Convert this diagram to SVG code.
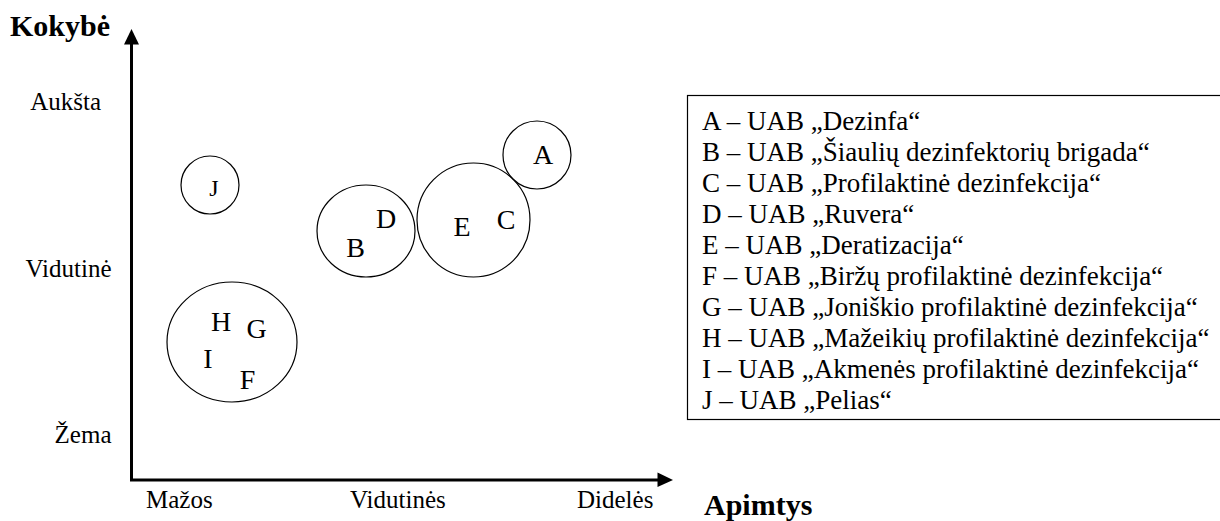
<svg xmlns="http://www.w3.org/2000/svg" width="1220" height="521" viewBox="0 0 1220 521">
<defs>
<style>
.t{font-family:"Liberation Serif","Times New Roman",serif;fill:#000}
.ax{font-size:25px}
.lg{font-size:27px}
.b{font-weight:bold;font-size:30px}
.c{fill:none;stroke:#000;stroke-width:1.2}
.L{font-size:28px;text-anchor:middle}
</style>
</defs>
<rect width="1220" height="521" fill="#fff"/>
<g id="axes">
<path d="M131.5,44 V480 H658" fill="none" stroke="#000" stroke-width="3"/>
<polygon points="124,44.5 139,44.5 131.5,29"/>
<polygon points="657.5,472.5 657.5,487 673,480"/>
</g>
<g id="labels">
<text class="t b" x="10" y="36">Kokybė</text>
<text class="t ax" x="101" y="110" text-anchor="end">Aukšta</text>
<text class="t ax" x="111.5" y="277" text-anchor="end">Vidutinė</text>
<text class="t ax" x="111.5" y="443" text-anchor="end">Žema</text>
<text class="t ax" x="146" y="508">Mažos</text>
<text class="t ax" x="350" y="508">Vidutinės</text>
<text class="t ax" x="577" y="508">Didelės</text>
<text class="t b" x="704" y="515">Apimtys</text>
</g>
<g id="node-J"><circle class="c" cx="210" cy="185" r="29" stroke-width="2"/><text class="t" x="214" y="196" font-size="24" text-anchor="middle">J</text></g>
<g id="node-BD"><ellipse class="c" cx="366" cy="231" rx="49" ry="46"/><text class="t L" x="355.5" y="257">B</text><text class="t L" x="386" y="228">D</text></g>
<g id="node-EC"><ellipse class="c" cx="473.5" cy="220" rx="56.5" ry="57"/><text class="t L" x="462" y="236">E</text><text class="t L" x="506" y="229">C</text></g>
<g id="node-A"><circle class="c" cx="537" cy="155" r="34"/><text class="t L" x="543" y="164">A</text></g>
<g id="node-FGHI"><ellipse class="c" cx="232" cy="342" rx="65" ry="60"/><text class="t L" x="221" y="331">H</text><text class="t L" x="256.5" y="338">G</text><text class="t L" x="208" y="368">I</text><text class="t L" x="247.5" y="389">F</text></g>
<g id="legend">
<rect x="687.5" y="95.5" width="540" height="324" fill="none" stroke="#000" stroke-width="1.2"/>
<text class="t lg" x="702" y="130">A – UAB „Dezinfa“</text>
<text class="t lg" x="702" y="161">B – UAB „Šiaulių dezinfektorių brigada“</text>
<text class="t lg" x="702" y="192">C – UAB „Profilaktinė dezinfekcija“</text>
<text class="t lg" x="702" y="223">D – UAB „Ruvera“</text>
<text class="t lg" x="702" y="254">E – UAB „Deratizacija“</text>
<text class="t lg" x="702" y="285">F – UAB „Biržų profilaktinė dezinfekcija“</text>
<text class="t lg" x="702" y="316">G – UAB „Joniškio profilaktinė dezinfekcija“</text>
<text class="t lg" x="702" y="347">H – UAB „Mažeikių profilaktinė dezinfekcija“</text>
<text class="t lg" x="702" y="378">I – UAB „Akmenės profilaktinė dezinfekcija“</text>
<text class="t lg" x="702" y="409">J – UAB „Pelias“</text>
</g>
</svg>
